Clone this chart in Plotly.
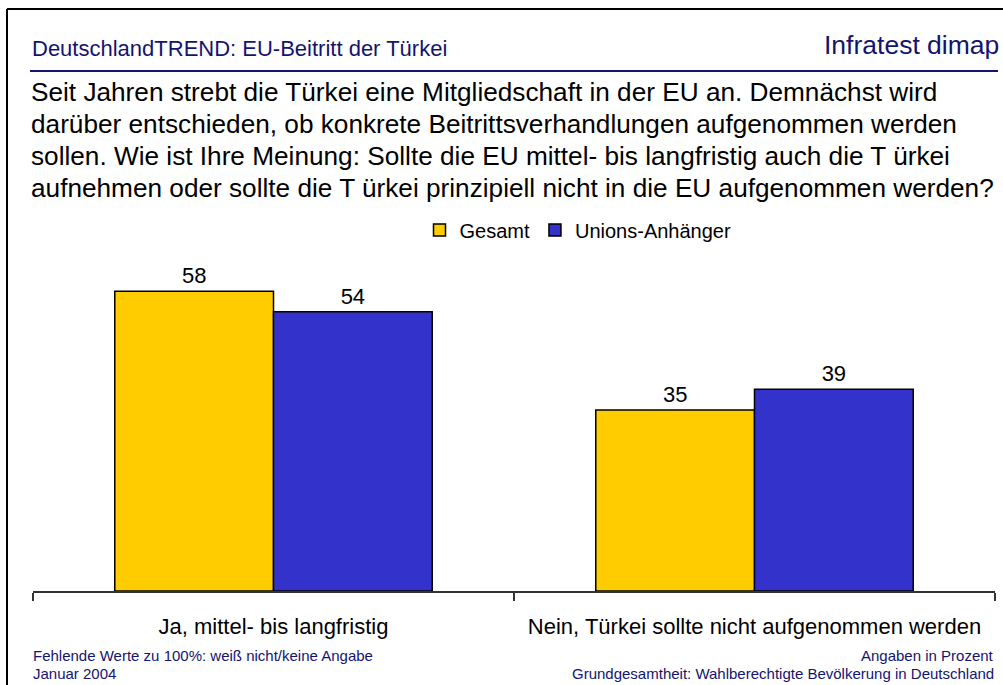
import plotly.graph_objects as go

categories = ["Ja, mittel- bis langfristig", "Nein, Türkei sollte nicht aufgenommen werden"]
gesamt = [58, 35]
unions = [54, 39]
series_names = ["Gesamt", "Unions-Anhänger"]

title_text = "DeutschlandTREND: EU-Beitritt der Türkei"
brand_text = "Infratest dimap"
question_lines = [
    "Seit Jahren strebt die Türkei eine Mitgliedschaft in der EU an. Demnächst wird",
    "darüber entschieden, ob konkrete Beitrittsverhandlungen aufgenommen werden",
    "sollen. Wie ist Ihre Meinung: Sollte die EU mittel- bis langfristig auch die T ürkei",
    "aufnehmen oder sollte die T ürkei prinzipiell nicht in die EU aufgenommen werden?",
]
footer_left = ["Fehlende Werte zu 100%: weiß nicht/keine Angabe", "Januar 2004"]
footer_right = ["Angaben in Prozent", "Grundgesamtheit: Wahlberechtigte Bevölkerung in Deutschland"]

W, H = 1003, 685
L, R, T, B = 33, 8, 250, 94
PW, PH = W - L - R, H - T - B
NAVY = "#14146e"
FONT = "Liberation Sans, Arial, sans-serif"


def px(x):
    return (x - L) / PW


def py(y):
    return (H - B - y) / PH


fig = go.Figure()
fig.add_trace(go.Bar(
    x=categories, y=gesamt, name=series_names[0],
    marker=dict(color="#FFCC00", line=dict(color="black", width=1.5)),
    text=gesamt, textposition="outside", cliponaxis=False,
    textfont=dict(size=22, color="black"),
))
fig.add_trace(go.Bar(
    x=categories, y=unions, name=series_names[1],
    marker=dict(color="#3333CC", line=dict(color="black", width=1.5)),
    text=unions, textposition="outside", cliponaxis=False,
    textfont=dict(size=22, color="black"),
))

annotations = [
    dict(x=px(30), y=py(48), text=title_text, xanchor="left", yanchor="middle",
         font=dict(size=22, color=NAVY)),
    dict(x=px(1001), y=py(45), text=brand_text, xanchor="right", yanchor="middle",
         font=dict(size=26.5, color=NAVY)),
    dict(x=px(31), y=py(655), text=footer_left[0], xanchor="left", yanchor="middle",
         font=dict(size=15, color=NAVY)),
    dict(x=px(31), y=py(673), text=footer_left[1], xanchor="left", yanchor="middle",
         font=dict(size=15, color=NAVY)),
    dict(x=px(996), y=py(655), text=footer_right[0], xanchor="right", yanchor="middle",
         font=dict(size=15, color=NAVY)),
    dict(x=px(996), y=py(673), text=footer_right[1], xanchor="right", yanchor="middle",
         font=dict(size=15, color=NAVY)),
]
for i, line in enumerate(question_lines):
    annotations.append(dict(x=px(29), y=py(92 + 32 * i), text=line, xanchor="left",
                            yanchor="middle", font=dict(size=26.2, color="black")))
for a in annotations:
    a.update(xref="paper", yref="paper", showarrow=False)

shapes = [
    # outer frame
    dict(type="line", x0=px(7), x1=px(7), y0=py(9), y1=py(700), line=dict(color="black", width=2)),
    dict(type="line", x0=px(7), x1=px(1010), y0=py(9), y1=py(9), line=dict(color="black", width=2)),
    # title underline
    dict(type="line", x0=px(30), x1=px(998), y0=py(71), y1=py(71), line=dict(color=NAVY, width=2)),
]
for s in shapes:
    s.update(xref="paper", yref="paper")

fig.update_layout(
    width=W, height=H,
    margin=dict(l=L, r=R, t=T, b=B),
    paper_bgcolor="white", plot_bgcolor="white",
    font=dict(family=FONT, color="black"),
    barmode="group", bargap=0.34, bargroupgap=0,
    showlegend=True,
    legend=dict(orientation="h", x=px(578), y=py(230), xanchor="center", yanchor="middle",
                font=dict(size=20), itemwidth=30, tracegroupgap=0),
    annotations=annotations, shapes=shapes,
)
fig.update_xaxes(showline=True, linecolor="#333333", linewidth=2, ticks="outside",
                 tickson="boundaries", ticklen=8, tickwidth=2, tickcolor="#333333",
                 tickfont=dict(size=22), ticklabelstandoff=15, showgrid=False)
fig.update_yaxes(range=[0, PH / 5.17], visible=False, showgrid=False)

fig.write_html("out.html", config={"displayModeBar": False},
               post_script="document.body.style.margin='0';")
